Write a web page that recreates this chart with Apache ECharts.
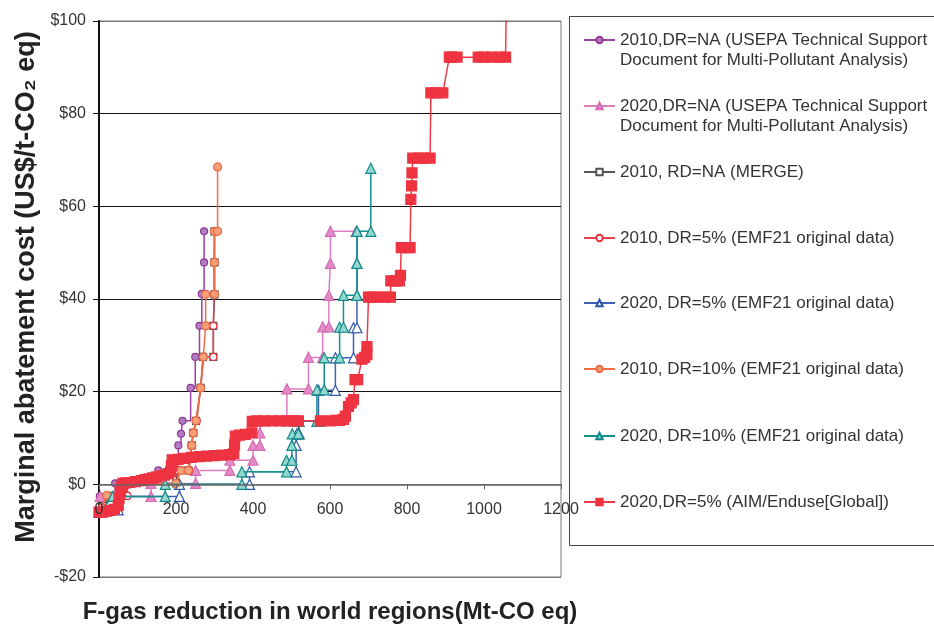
<!DOCTYPE html>
<html>
<head>
<meta charset="utf-8">
<script src="https://cdn.jsdelivr.net/npm/echarts@6/dist/echarts.min.js"></script>
<style>
  html, body { margin: 0; padding: 0; background: #fff; }
  #chart { width: 934px; height: 626px; }
</style>
</head>
<body>
<div id="chart"></div>
<script>
const FONT = '"Liberation Sans", Arial, "DejaVu Sans", sans-serif';

// Series names (legend order)
const seriesNames = [
  '2010,DR=NA (USEPA Technical Support Document for Multi-Pollutant Analysis)',
  '2020,DR=NA (USEPA Technical Support Document for Multi-Pollutant Analysis)',
  '2010, RD=NA (MERGE)',
  '2010, DR=5% (EMF21 original data)',
  '2020, DR=5% (EMF21 original data)',
  '2010, DR=10% (EMF21 original data)',
  '2020, DR=10% (EMF21 original data)',
  '2020,DR=5% (AIM/Enduse[Global])'
];

// Legend text, wrapped as printed
const legendLabels = [
  ['2010,DR=NA (USEPA Technical Support', 'Document for Multi-Pollutant Analysis)'],
  ['2020,DR=NA (USEPA Technical Support', 'Document for Multi-Pollutant Analysis)'],
  ['2010, RD=NA (MERGE)'],
  ['2010, DR=5% (EMF21 original data)'],
  ['2020, DR=5% (EMF21 original data)'],
  ['2010, DR=10% (EMF21 original data)'],
  ['2020, DR=10% (EMF21 original data)'],
  ['2020,DR=5% (AIM/Enduse[Global])']
];

// Axis ticks
const xTicks = [0, 200, 400, 600, 800, 1000, 1200];
const yTicks = [-20, 0, 20, 40, 60, 80, 100];

// [cumulative reduction (Mt-CO2 eq), marginal cost (US$/t-CO2 eq)]
const usepa2010 = [[2,-2.6],[42,0.2],[154,3.0],[206,8.4],[213,10.9],[217,13.7],[238,20.8],[250,27.5],[261,34.2],[267,41.1],[273,47.9],[273,54.6]];

const usepa2020 = [[3,-2.6],[135,-2.6],[135,0.2],[251,0.2],[251,3.0],[340,3.0],[340,5.2],[400,5.2],[400,8.4],[418,8.4],[418,11.1],[418,13.7],[488,13.7],[488,20.6],[544,20.6],[544,27.4],[581,27.4],[581,34.0],[597,34.0],[597,40.8],[601,47.7],[601,54.6],[668,54.6]];

const merge2010 = [[0,-6.0],[10,-4.7],[28,-2.5],[70,-2.5],[70,0.2],[200,0.2],[204,3.0],[232,3.0],[241,8.4],[245,11.1],[252,13.7],[264,20.8],[270,27.5],[297,27.5],[297,34.2],[300,41.0],[300,47.9],[300,54.6]];

const emf5_2010 = [[0,-6.0],[8,-5.0],[20,-2.5],[74,-2.5],[74,0.2],[204,0.2],[204,3.0],[234,3.0],[240,8.4],[244,11.1],[254,13.7],[264,20.8],[272,27.5],[297,27.5],[297,34.2],[299,41.0],[299,47.9],[300,54.6]];

const emf5_2020 = [[0,-6.0],[50,-5.5],[50,-2.6],[209,-2.6],[209,0],[391,0],[391,2.7],[512,2.7],[512,8.4],[514,10.9],[520,10.9],[520,13.6],[570,13.6],[570,20.3],[614,20.3],[614,27.3],[661,27.3],[661,33.8],[670,33.8],[670,40.8],[670,47.7],[670,54.6]];

const emf10_2010 = [[2,-6.0],[20,-2.4],[59,-2.4],[59,0.2],[200,0.2],[213,3.0],[232,3.0],[241,8.4],[245,11.1],[252,13.7],[264,20.8],[271,27.5],[277,34.2],[277,41.0],[300,41.0],[300,47.9],[300,54.6],[308,54.6],[308,68.5]];

const emf10_2020 = [[3,-6.0],[36,-2.6],[172,-2.6],[172,0],[371,0],[371,2.7],[487,2.7],[487,5.2],[501,5.2],[501,8.4],[502,10.9],[518,10.9],[518,13.6],[566,13.6],[566,20.4],[585,20.4],[585,27.3],[625,27.3],[625,33.9],[635,33.9],[635,40.8],[670,40.8],[670,47.7],[670,54.6],[706,54.6],[706,68.2]];

const aim2020 = [[0,-6.0],[10,-6.0],[20,-5.8],[30,-5.6],[40,-5.4],[50,-4.6],[52,-3.0],[55,-1.5],[58,-0.5],[62,0.2],[70,0.3],[80,0.4],[95,0.6],[110,0.8],[120,1.0],[130,1.2],[140,1.4],[150,1.6],[160,1.8],[170,2.0],[180,2.3],[186,2.7],[188,4.0],[190,5.3],[205,5.4],[220,5.6],[240,5.8],[260,6.0],[280,6.1],[300,6.2],[320,6.3],[340,6.4],[350,6.6],[352,8.5],[354,10.4],[365,10.6],[380,10.8],[397,11.1],[398,13.6],[410,13.7],[430,13.7],[450,13.7],[470,13.7],[490,13.7],[505,13.7],[518,13.7],[575,13.7],[600,13.7],[615,13.8],[625,13.8],[635,14.0],[640,14.7],[648,16.8],[655,17.6],[661,18.3],[665,22.6],[672,22.6],[683,27.0],[690,27.4],[696,28.0],[696,29.7],[700,40.4],[710,40.4],[725,40.4],[740,40.4],[757,40.4],[758,43.9],[770,43.9],[780,43.9],[783,45.1],[785,51.1],[800,51.1],[808,51.1],[810,61.5],[812,64.4],[813,67.2],[815,70.4],[830,70.4],[845,70.4],[860,70.4],[862,84.5],[875,84.5],[893,84.5],[910,92.2],[915,92.2],[930,92.2],[985,92.2],[1000,92.2],[1020,92.2],[1040,92.2],[1056,92.2],[1058,104]];

const seriesData = [usepa2010, usepa2020, merge2010, emf5_2010, emf5_2020, emf10_2010, emf10_2020, aim2020];

// Per-series look
const styles = [
  { line: '#9a3fa3', symbol: 'circle',   size: 7,  fill: '#b47cc3', border: '#8d3a97', step: 'end' },
  { line: '#de7cc0', symbol: 'triangle', size: 10, fill: '#e48bc7', border: '#d56cb3' },
  { line: '#555555', symbol: 'rect',     size: 7,  fill: '#ffffff', border: '#555555' },
  { line: '#ea4250', symbol: 'circle',   size: 7,  fill: '#ffffff', border: '#e5323f' },
  { line: '#3b62b4', symbol: 'triangle', size: 10, fill: '#ffffff', border: '#2f56a8' },
  { line: '#ee6d45', symbol: 'circle',   size: 8,  fill: '#f6a079', border: '#ec6a42' },
  { line: '#15918e', symbol: 'triangle', size: 10, fill: '#92d8d0', border: '#128a87' },
  { line: '#ef3b48', symbol: 'rect',     size: 10, fill: '#ee3341', border: '#ee3341' }
];

// Vertical centre of each legend row (first text line)
const legendCenters = [40, 106, 172, 238, 303, 369, 436, 502];

const series = seriesData.map((d, i) => ({
  name: seriesNames[i],
  type: 'line',
  data: d,
  step: styles[i].step || false,
  symbol: styles[i].symbol,
  symbolSize: styles[i].size,
  showSymbol: true,
  clip: true,
  lineStyle: { color: styles[i].line, width: 1.5 },
  itemStyle: { color: styles[i].fill, borderColor: styles[i].border, borderWidth: 1.2 },
  emphasis: { disabled: true },
  z: 2 + i
}));

// One legend per row; two-line rows get a leading empty line so the
// symbol sits level with the first printed line.
const legends = seriesNames.map((n, i) => {
  const lines = legendLabels[i];
  const twoLine = lines.length > 1;
  const text = twoLine ? '\n' + lines.join('\n') : lines[0];
  return {
    data: [n],
    left: 583,
    top: legendCenters[i] - (twoLine ? 30 : 10),
    padding: 0,
    itemWidth: 31,
    itemHeight: 8,
    selectedMode: false,
    formatter: () => text,
    textStyle: { fontFamily: FONT, fontSize: 17, color: '#333', lineHeight: 20 }
  };
});

// Pixel distance from the bottom of the plot to the zero line
const GRID_TOP = 21, GRID_H = 556;
const zeroOffset = -(GRID_H * (0 - (-20)) / (100 - (-20)));

const chart = echarts.init(document.getElementById('chart'), null, { renderer: 'canvas' });
chart.setOption({
  animation: false,
  backgroundColor: '#ffffff',
  grid: { left: 99, right: 373, top: GRID_TOP, height: GRID_H, show: true, borderColor: '#777', borderWidth: 1, outerBoundsMode: 'none' },
  legend: legends,
  xAxis: {
    type: 'value', min: 0, max: 1200, interval: 200,
    offset: zeroOffset,
    z: 20,
    name: 'F-gas reduction in world regions(Mt-CO eq)',
    nameLocation: 'middle', nameGap: 116,
    nameTextStyle: { fontFamily: FONT, fontSize: 24, fontWeight: 'bold', color: '#222' },
    axisLine: { onZero: false, lineStyle: { color: '#666', width: 1.5 } },
    axisTick: { show: true, length: 5, lineStyle: { color: '#666' } },
    axisLabel: { fontFamily: FONT, fontSize: 16, color: '#333', margin: 17,
      showMinLabel: true, showMaxLabel: true, hideOverlap: false,
      formatter: v => (xTicks.indexOf(v) >= 0 ? String(v) : '') },
    splitLine: { show: false }
  },
  yAxis: {
    type: 'value', min: -20, max: 100, interval: 20,
    name: 'Marginal abatement cost (US$/t-CO\u2082 eq)',
    nameLocation: 'middle', nameGap: 59,
    nameTextStyle: { fontFamily: FONT, fontSize: 27, fontWeight: 'bold', color: '#222', padding: [0, 0, 0, 24] },
    axisLine: { show: true, lineStyle: { color: '#111', width: 2 } },
    axisTick: { show: true, length: 6, lineStyle: { color: '#111' } },
    axisLabel: { fontFamily: FONT, fontSize: 16, color: '#333', margin: 13,
      formatter: v => (yTicks.indexOf(v) < 0 ? '' : (v < 0 ? '-$' + (-v) : '$' + v)) },
    splitLine: { show: true, lineStyle: { color: ['#777', '#777', '#111', '#111', '#111', '#111', '#777'], width: 1 } }
  },
  graphic: [{
    type: 'rect', silent: true, z: -1,
    shape: { x: 569.5, y: 16.5, width: 400, height: 529 },
    style: { fill: 'none', stroke: '#444', lineWidth: 1 }
  }],
  series: series
});
</script>
</body>
</html>
